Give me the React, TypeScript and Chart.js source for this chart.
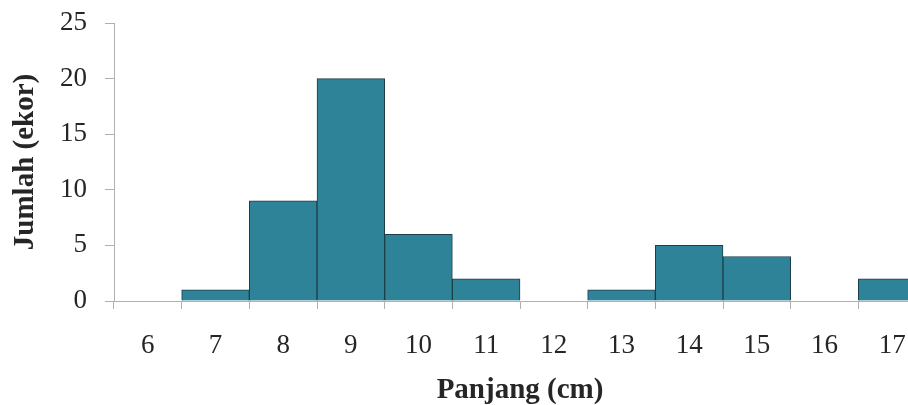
import React, { useEffect, useRef } from "react";
import { Chart, registerables } from "chart.js";

Chart.register(...registerables);

const categories = ["6", "7", "8", "9", "10", "11", "12", "13", "14", "15", "16", "17"];
const counts = [0, 1, 9, 20, 6, 2, 0, 1, 5, 4, 0, 2];
const yTicks = [0, 5, 10, 15, 20, 25];
const xTitle = "Panjang (cm)";
const yTitle = "Jumlah (ekor)";

export default function App() {
  const ref = useRef<HTMLCanvasElement | null>(null);

  useEffect(() => {
    if (!ref.current) return;
    const font = "'Liberation Serif', 'Times New Roman', serif";
    const chart = new Chart(ref.current, {
      type: "bar",
      data: {
        labels: categories,
        datasets: [
          {
            data: counts,
            backgroundColor: "#2f8399",
            borderColor: "#1d3f48",
            borderWidth: 1,
            barPercentage: 1,
            categoryPercentage: 1,
          },
        ],
      },
      options: {
        animation: false,
        responsive: false,
        devicePixelRatio: 1,
        layout: { padding: { left: 0, right: 0, top: 23, bottom: 0 } },
        plugins: { legend: { display: false }, tooltip: { enabled: false } },
        scales: {
          x: {
            offset: true,
            grid: {
              offset: true,
              drawOnChartArea: false,
              drawTicks: true,
              tickLength: 8,
              color: "#b0b0b0",
            },
            border: { color: "#b0b0b0", width: 1 },
            ticks: {
              color: "#262626",
              font: { family: font, size: 27 },
              padding: 21,
              maxRotation: 0,
              autoSkip: false,
            },
            title: {
              display: true,
              text: xTitle,
              color: "#262626",
              font: { family: font, size: 29, weight: "bold" },
              padding: { top: 0, bottom: -3 },
            },
            afterFit: (scale: any) => {
              scale.height = 104;
              scale.paddingLeft = 0;
              scale.paddingRight = 0;
            },
          },
          y: {
            min: 0,
            max: 25,
            afterBuildTicks: (scale: any) => {
              scale.ticks = yTicks.map((v) => ({ value: v }));
            },
            grid: {
              drawOnChartArea: false,
              drawTicks: true,
              tickLength: 9,
              color: "#b0b0b0",
            },
            border: { color: "#b0b0b0", width: 1 },
            ticks: {
              color: "#262626",
              font: { family: font, size: 27 },
              padding: 18,
            },
            title: {
              display: true,
              text: yTitle,
              color: "#262626",
              font: { family: font, size: 29, weight: "bold" },
              padding: { top: 8, bottom: 0 },
            },
            afterFit: (scale: any) => {
              scale.width = 114;
              scale.paddingTop = 0;
              scale.paddingBottom = 0;
            },
          },
        },
      },
    });
    return () => chart.destroy();
  }, []);

  return (
    <div
      style={{
        position: "fixed",
        left: 0,
        top: 0,
        width: 908,
        height: 405,
        overflow: "hidden",
        background: "#fff",
      }}
    >
      <canvas ref={ref} width={926} height={405} style={{ display: "block" }} />
    </div>
  );
}
